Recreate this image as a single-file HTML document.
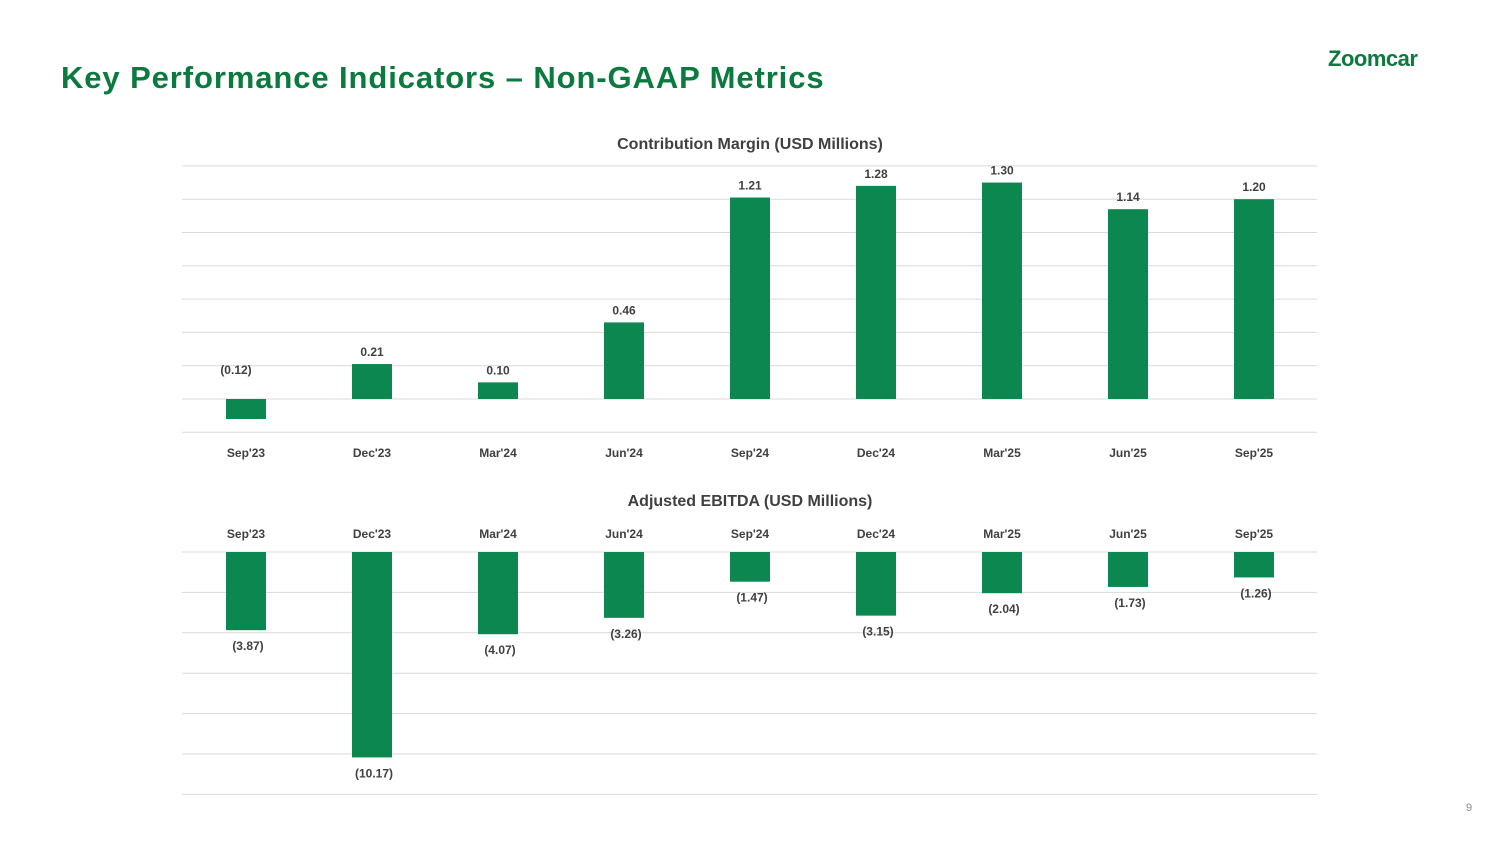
<!DOCTYPE html>
<html><head><meta charset="utf-8"><style>
body{margin:0;width:1500px;height:844px;background:#fff;overflow:hidden;position:relative;font-family:"Liberation Sans",sans-serif}
#title{position:absolute;left:61px;top:60px;font-size:31px;font-weight:bold;color:#0b7a3e;letter-spacing:0.9px}
#logo{position:absolute;left:1328px;top:46px;font-size:22px;font-weight:bold;color:#0b7a3e;letter-spacing:-0.5px}
#pg{position:absolute;left:1466px;top:802px;font-size:11px;color:#888}
svg{position:absolute;left:0;top:0}
svg text{font-family:"Liberation Sans",sans-serif;font-weight:bold;fill:#404040}
</style></head><body>
<div id="title">Key Performance Indicators – Non-GAAP Metrics</div>
<div id="logo">Zoomcar</div>
<div id="pg">9</div>
<svg id="c" width="1500" height="844"></svg>
<script>
const categories=["Sep'23","Dec'23","Mar'24","Jun'24","Sep'24","Dec'24","Mar'25","Jun'25","Sep'25"];
const contribution=[-0.12,0.21,0.10,0.46,1.21,1.28,1.30,1.14,1.20];
const ebitda=[-3.87,-10.17,-4.07,-3.26,-1.47,-3.15,-2.04,-1.73,-1.26];
const topTicks=[-0.2,0,0.2,0.4,0.6,0.8,1,1.2,1.4];
const botTicks=[0,-2,-4,-6,-8,-10,-12];
const svg=document.getElementById('c');const NS='http://www.w3.org/2000/svg';
function mk(t,a,txt){const e=document.createElementNS(NS,t);for(const k in a)e.setAttribute(k,a[k]);if(txt!==undefined)e.textContent=txt;svg.appendChild(e);return e;}
const xC=i=>246+i*126;
const y1=v=>399-v*166.5;
const y2=v=>552-v*20.2;
const fmt=v=>v<0?'('+Math.abs(v).toFixed(2)+')':v.toFixed(2);
let t=mk('text',{x:750,y:149,'text-anchor':'middle','font-size':16},'Contribution Margin (USD Millions)');


topTicks.forEach(v=>{const l=mk('line',{x1:182,x2:1317,y1:y1(v),y2:y1(v),stroke:'#d9d9d9','stroke-width':1});

});
contribution.forEach((v,i)=>{const y=Math.min(y1(v),y1(0));const h=Math.abs(y1(v)-y1(0));
const r=mk('rect',{x:xC(i)-20,y:y,width:40,height:h,fill:'#0b874f'});


const lx=v<0?xC(i)-10:xC(i);const ly=v<0?y1(0)-25:y1(v)-8;
const lb=mk('text',{x:lx,y:ly,'text-anchor':'middle','font-size':12},fmt(v));


const c=mk('text',{x:xC(i),y:457,'text-anchor':'middle','font-size':12},categories[i]);

});
t=mk('text',{x:750,y:506,'text-anchor':'middle','font-size':16},'Adjusted EBITDA (USD Millions)');


botTicks.forEach(v=>{const l=mk('line',{x1:182,x2:1317,y1:y2(v),y2:y2(v),stroke:'#d9d9d9','stroke-width':1});

});
ebitda.forEach((v,i)=>{const r=mk('rect',{x:xC(i)-20,y:y2(0),width:40,height:y2(v)-y2(0),fill:'#0b874f'});


const lb=mk('text',{x:xC(i)+2,y:y2(v)+20,'text-anchor':'middle','font-size':12},fmt(v));


const c=mk('text',{x:xC(i),y:538,'text-anchor':'middle','font-size':12},categories[i]);

});
</script></body></html>
